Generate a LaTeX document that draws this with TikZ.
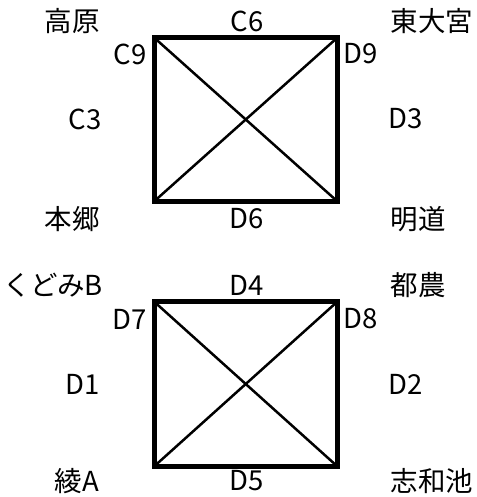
\documentclass[tikz,border=0pt]{standalone}
\usepackage{fontspec}
\setmainfont{Noto Sans CJK JP}
\usepackage{tikz}
\usetikzlibrary{positioning}

\begin{document}
\begin{tikzpicture}[x=1pt, y=-1pt, font=\fontsize{27.5}{32}\selectfont,
    edgebox/.style={line width=5pt},
    cross/.style={line width=2.5pt}]
      \useasboundingbox (0,0) rectangle (476,497);
      % upper block
      \coordinate (utl) at (154,37.5);
      \coordinate (utr) at (337.5,37.5);
      \coordinate (ubr) at (337.5,201.5);
      \coordinate (ubl) at (154,201.5);
      \draw[cross] (utl) -- (ubr);
      \draw[cross] (utr) -- (ubl);
      \draw[edgebox] (utl) -- (utr) -- (ubr) -- (ubl) -- cycle;
      \node (takahara) at (72,21) {高原};
      \node (c6) at (247,21) {C6};
      \node (higashiomiya) at (432,21) {東大宮};
      \node (c9) at (130,54) {C9};
      \node (d9) at (361,54) {D9};
      \node (c3) at (85,119) {C3};
      \node (d3) at (406,119) {D3};
      \node (hongo) at (72,219) {本郷};
      \node (d6) at (247,219) {D6};
      \node (meido) at (418,219) {明道};
      % lower block
      \coordinate (ltl) at (154,301.5);
      \coordinate (ltr) at (337.5,301.5);
      \coordinate (lbr) at (337.5,466.5);
      \coordinate (lbl) at (154,466.5);
      \draw[cross] (ltl) -- (lbr);
      \draw[cross] (ltr) -- (lbl);
      \draw[edgebox] (ltl) -- (ltr) -- (lbr) -- (lbl) -- cycle;
      \node (kudomib) at (53,285) {くどみB};
      \node (d4) at (247,285) {D4};
      \node (tsuno) at (418,285) {都農};
      \node (d7) at (130,319) {D7};
      \node (d8) at (361,319) {D8};
      \node (d1) at (83,384) {D1};
      \node (d2) at (406,384) {D2};
      \node (ayaa) at (77,481) {綾A};
      \node (d5) at (247,481) {D5};
      \node (shiwachi) at (432,481) {志和池};
    \end{tikzpicture}
\end{document}
